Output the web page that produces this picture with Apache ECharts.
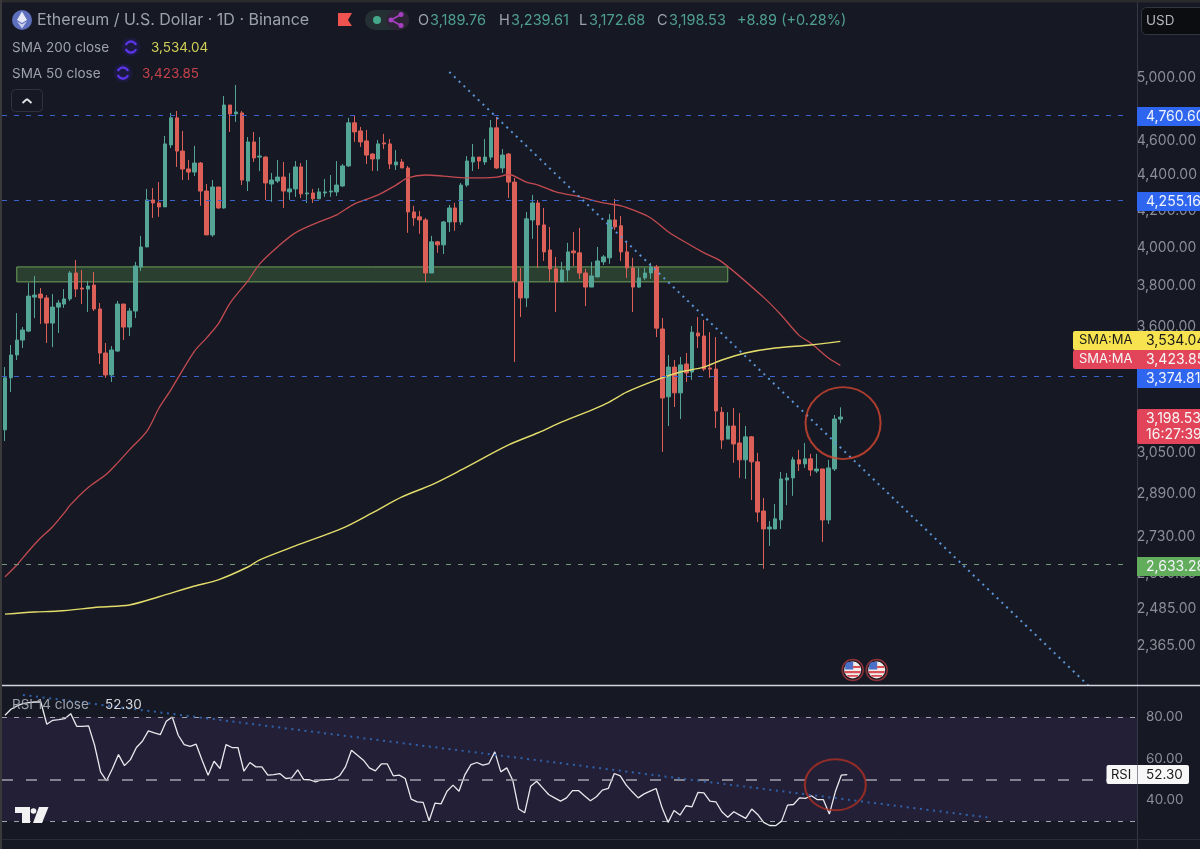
<!DOCTYPE html>
<html>
<head>
<meta charset="utf-8">
<title>ETH / USD</title>
<script src="https://cdn.jsdelivr.net/npm/echarts@6/dist/echarts.min.js"></script>
<style>
  html, body { margin: 0; padding: 0; background: #161924; }
  #chart { width: 1200px; height: 849px; }
</style>
</head>
<body>
<div id="chart"></div>
<script>
// === Data === //
const opens = [
  3145, 3368, 3471, 3540, 3582, 3746, 3761, 3742, 3620, 3697,
  3712, 3737, 3867, 3791, 3786, 3806, 3688, 3480, 3381, 3489,
  3712, 3601, 3678, 3898, 4002, 4258, 4241, 4219, 4578, 4744,
  4541, 4435, 4417, 4470, 4308, 4066, 4331, 4213, 4825, 4769,
  4775, 4365, 4596, 4505, 4505, 4348, 4365, 4388, 4303, 4320,
  4447, 4292, 4297, 4264, 4297, 4303, 4303, 4337, 4453, 4713,
  4663, 4602, 4523, 4494, 4590, 4584, 4459, 4476, 4441, 4191,
  4164, 4147, 3867, 4029, 4013, 4136, 4213, 4136, 4342, 4476,
  4505, 4476, 4505, 4682, 4441, 4523, 4359, 3822, 3742, 4147,
  4241, 4120, 3986, 3888, 3822, 3882, 3981, 3971, 3867, 3796,
  3847, 3924, 3945, 4147, 4115, 3976, 3893, 3796, 3842, 3867,
  3898, 3592, 3285, 3416, 3302, 3430, 3394, 3573, 3559, 3412,
  3407, 3219, 3107, 3161, 3091, 3023, 3116, 3015, 2826, 2760,
  2760, 2793, 2944, 2952, 3023, 3007, 3027, 2979, 2987, 2793,
  2987, 3189.76
]
const closes = [
  3368, 3471, 3540, 3587, 3751, 3756, 3742, 3620, 3697, 3717,
  3737, 3867, 3786, 3786, 3801, 3688, 3480, 3381, 3494, 3712,
  3601, 3678, 3903, 4002, 4258, 4241, 4219, 4584, 4744, 4541,
  4435, 4417, 4470, 4308, 4066, 4331, 4213, 4825, 4769, 4781,
  4371, 4596, 4500, 4511, 4354, 4371, 4388, 4308, 4320, 4447,
  4292, 4297, 4264, 4303, 4303, 4308, 4342, 4453, 4713, 4657,
  4596, 4517, 4494, 4584, 4584, 4464, 4476, 4441, 4191, 4158,
  4147, 3867, 4029, 4013, 4136, 4213, 4136, 4342, 4482, 4505,
  4482, 4505, 4682, 4441, 4517, 4359, 3827, 3742, 4153, 4241,
  4120, 3976, 3888, 3822, 3882, 3976, 3971, 3867, 3796, 3852,
  3929, 3950, 4147, 4109, 3976, 3893, 3796, 3842, 3867, 3898,
  3596, 3280, 3416, 3302, 3426, 3390, 3577, 3559, 3407, 3407,
  3224, 3103, 3161, 3087, 3023, 3116, 3015, 2822, 2760, 2767,
  2797, 2948, 2952, 3023, 3007, 3027, 2983, 2987, 2793, 2991,
  3190, 3198.53
]
const lows = [
  3099, 3306, 3448, 3503, 3577, 3644, 3616, 3526, 3507, 3573,
  3693, 3727, 3746, 3712, 3673, 3678, 3430, 3368, 3350, 3485,
  3540, 3559, 3644, 3877, 4002, 4158, 4164, 4219, 4559, 4447,
  4371, 4371, 4394, 4225, 4066, 4056, 4208, 4208, 4657, 4719,
  4342, 4308, 4476, 4423, 4258, 4247, 4354, 4213, 4258, 4275,
  4269, 4241, 4241, 4264, 4275, 4275, 4280, 4331, 4447, 4596,
  4566, 4464, 4423, 4423, 4553, 4435, 4429, 4441, 4077, 4115,
  4072, 3822, 3867, 3971, 3965, 4082, 4088, 4120, 4331, 4423,
  4435, 4459, 4488, 4435, 4412, 4269, 3439, 3649, 3697, 4045,
  3893, 3929, 3827, 3673, 3822, 3827, 3903, 3837, 3702, 3796,
  3847, 3908, 3914, 4093, 3929, 3842, 3673, 3791, 3832, 3837,
  3554, 3055, 3161, 3241, 3190, 3350, 3359, 3503, 3398, 3368,
  3153, 3067, 3107, 3011, 2952, 2948, 2867, 2785, 2619, 2699,
  2760, 2760, 2848, 2883, 2979, 2991, 2960, 2971, 2713, 2778,
  2979, 3172.68
]
const highs = [
  3416, 3517, 3668, 3601, 3817, 3852, 3791, 3756, 3761, 3732,
  3786, 3877, 3934, 3882, 3827, 3872, 3717, 3526, 3512, 3727,
  3712, 3693, 3924, 4061, 4320, 4325, 4359, 4632, 4775, 4787,
  4663, 4488, 4572, 4476, 4348, 4371, 4331, 4883, 4825, 4954,
  4787, 4626, 4657, 4626, 4511, 4412, 4488, 4476, 4412, 4482,
  4470, 4488, 4320, 4325, 4377, 4400, 4482, 4464, 4744, 4756,
  4688, 4669, 4529, 4608, 4645, 4614, 4547, 4494, 4453, 4225,
  4197, 4158, 4061, 4034, 4142, 4230, 4241, 4354, 4511, 4584,
  4505, 4614, 4731, 4750, 4553, 4529, 4383, 3893, 4191, 4286,
  4258, 4213, 4109, 3950, 3924, 4024, 4082, 4104, 3888, 3924,
  4002, 3960, 4180, 4264, 4169, 4029, 3945, 3893, 3893, 3919,
  3908, 3644, 3471, 3448, 3462, 3480, 3606, 3649, 3635, 3577,
  3554, 3241, 3219, 3237, 3215, 3161, 3120, 3051, 2875, 2789,
  2852, 2975, 2971, 3035, 3063, 3091, 3047, 3047, 2987, 3023,
  3207, 3239.61
]
const rsiValues = [
  80.8, 83.7, 85.3, 86.4, 86.9, 87.2, 87.2, 76.5, 78.4, 78.7,
  79.2, 81.6, 75.5, 75.5, 75.7, 66.4, 53.6, 49.3, 55.2, 61.9,
  56.6, 59.5, 65.3, 68.3, 73.3, 72.3, 71.5, 77.9, 80, 71.2,
  66.7, 65.9, 66.9, 59.2, 52, 58.7, 55.2, 66.7, 65.3, 65.3,
  53.9, 58.1, 56, 56, 52, 52.3, 52.8, 50.4, 50.7, 54.6,
  49.9, 49.8, 48.8, 49.8, 49.9, 50.1, 51.7, 56, 64, 61.6,
  59.2, 55.5, 54.1, 57.4, 57.4, 51.7, 52, 50.4, 40.5, 39.2,
  38.9, 30.1, 38.6, 38.2, 44.3, 47.2, 44.3, 52.3, 57.1, 58.1,
  56.8, 57.6, 63.2, 53.6, 55.5, 49.6, 35.7, 33.9, 46.7, 49.1,
  45.9, 42.7, 41.1, 39.5, 41.1, 44.6, 44.6, 42.1, 39.7, 41.6,
  44.8, 45.6, 52.8, 51.7, 47.2, 44, 41.1, 43, 44.3, 45.6,
  36.3, 29.3, 35, 32.8, 37.3, 36.8, 43.7, 43.5, 39.5, 39.2,
  34.4, 31.8, 34.4, 32.8, 31.2, 35.7, 33.1, 29.3, 27.8, 27.7,
  29.9, 37.6, 37.9, 41.1, 40.8, 42.1, 40.2, 40.2, 33.3, 44,
  52, 52.3
]

// moving averages: [bar index, price] read at the bends of each line
const sma50 = [
  [0, 2591], [2, 2632], [4, 2681], [6, 2727], [8, 2767], [10, 2819], [11, 2848], [14, 2914], [17, 2964],
  [19, 3011], [21, 3063], [24, 3141], [26, 3237], [28, 3315], [29, 3359], [32, 3489], [34, 3549], [36, 3616],
  [38, 3717], [41, 3827], [43, 3914], [46, 4002], [49, 4077], [53, 4136], [56, 4175], [59, 4236], [63, 4286],
  [66, 4342], [68, 4383], [71, 4400], [74, 4394], [78, 4383], [83, 4388], [85, 4403], [88, 4359], [90, 4342],
  [93, 4303], [97, 4275], [101, 4241], [104, 4225], [106, 4202], [109, 4158], [112, 4082], [115, 4024],
  [118, 3971], [121, 3924], [128, 3746], [131, 3659], [134, 3563], [136, 3526], [139, 3457], [141, 3423.85]
]
const sma200 = [
  [0, 2467], [5, 2474], [9, 2477], [16, 2490], [21, 2497], [26, 2524], [32, 2560], [36, 2581], [41, 2625],
  [43, 2650], [49, 2699], [57, 2763], [62, 2819], [67, 2879], [72, 2925], [77, 2983], [85, 3083], [90, 3133],
  [94, 3178], [99, 3228], [102, 3262], [105, 3306], [110, 3359], [114, 3394], [118, 3416], [121, 3448],
  [125, 3480], [130, 3503], [136, 3517], [141, 3534.04]
]

const priceTicks = [5000, 4600, 4400, 4200, 4000, 3800, 3600, 3050, 2890, 2730, 2600, 2485, 2365]
const rsiTicks = [80, 60, 40]
const blueLevels = [4760.6, 4255.16, 3374.81]
const greenLevels = [2633.28]
const rsiLevels = [80, 30]
const rsiMiddle = [50]
const priceTrend = [[75, 5040], [183, 2243]]
const rsiTrend = [[3, 90.6], [165, 31.5]]
const supportZone = { from: 2, to: 122, top: 3898, bottom: 3822 }

const barCount = 190
const categories = Array.from({ length: barCount }, (_, i) => String(i))

// === Style === //
const bg = '#161924'
const up = '#54a596'
const down = '#dd6058'
const font = 'Inter, "Noto Sans", sans-serif'

const money = v => v.toLocaleString('en-US', { minimumFractionDigits: 2, maximumFractionDigits: 2 })

// === Header, price tags and other chrome === //
const text = (x, y, str, fill, size = 13.5, extra = {}) => ({
  type: 'text', x, y, z: 120, silent: true,
  style: { text: str, fill, font: `${size}px ${font}`, verticalAlign: 'middle', ...extra }
})
const box = (x, y, width, height, fill, r = 0, extra = {}) => ({
  type: 'rect', z: 110, silent: true,
  shape: { x, y, width, height, r }, style: { fill, ...extra }
})
const line = (x1, y1, x2, y2, stroke, lineWidth = 1, z = 105) => ({
  type: 'line', z, silent: true,
  shape: { x1, y1, x2, y2 }, style: { stroke, lineWidth }
})
const poly = (points, fill) => ({ type: 'polygon', z: 120, silent: true, shape: { points }, style: { fill } })
const dot = (cx, cy, r, fill, extra = {}) => ({ type: 'circle', z: 115, silent: true, shape: { cx, cy, r }, style: { fill, ...extra } })
const arc = (cx, cy, r, startAngle, endAngle, stroke, lineWidth) => ({
  type: 'arc', z: 116, silent: true,
  shape: { cx, cy, r, startAngle, endAngle }, style: { stroke, lineWidth, fill: 'none' }
})
const syncIcon = (cx, cy) => [
  dot(cx, cy, 9.5, '#1c1a3f'),
  arc(cx, cy, 5.5, 3.5, 5.9, '#5a35e6', 2.4),
  arc(cx, cy, 5.5, 0.4, 2.8, '#5a35e6', 2.4)
]
const usFlag = cx => {
  const cy = 670
  return [
    dot(cx, cy, 10.5, '#171a24', { stroke: '#8c3238', lineWidth: 1.5 }),
    dot(cx, cy, 8.5, '#f1ece9'),
    { type: 'rect', z: 117, silent: true, shape: { x: cx - 7.5, y: cy - 8, width: 8, height: 7.5, r: [4, 0, 0, 0] }, style: { fill: '#4a6fc9' } },
    { type: 'rect', z: 117, silent: true, shape: { x: cx, y: cy - 4, width: 8, height: 2 }, style: { fill: '#d9525a' } },
    { type: 'rect', z: 117, silent: true, shape: { x: cx - 8, y: cy + 1, width: 16, height: 2.2 }, style: { fill: '#d9525a' } },
    { type: 'rect', z: 117, silent: true, shape: { x: cx - 5.5, y: cy + 5, width: 11, height: 1.8 }, style: { fill: '#d9525a' } }
  ]
}

const priceTag = (y, height, fill, color, label) => [
  box(1137, y, 63, height, fill),
  text(1146, y + height / 2, label, color, 14)
]

const graphics = [
  box(0, 0, 1200, 2.5, '#2b2b2d'),
  box(0, 0, 2, 849, '#39393c'),
  line(1137.5, 2, 1137.5, 849, '#363945'),
  line(2, 839.5, 1200, 839.5, '#2a2d38'),
  line(0, 685.5, 1200, 685.5, '#d4d6dc', 1.5, 108),

  // title row
  dot(22, 20, 10, '#5e6fbd'),
  poly([[22, 11.5], [27, 20], [22, 23], [17, 20]], '#e8ebf7'),
  poly([[22, 24.2], [27, 21.2], [22, 28.5], [17, 21.2]], '#c9d0ef'),
  text(37, 20.5, 'Ethereum / U.S. Dollar · 1D · Binance', '#9da1ac', 16),
  poly([[338, 13], [352, 13], [348, 20], [352, 26], [338, 26]], '#ef5350'),
  box(365, 10, 44, 20, '#243033', 10),
  box(386, 10, 23, 20, '#2b2536', 10),
  dot(377, 20, 4, '#45a88a'),
  dot(391, 20, 2.5, '#a63fc0'),
  dot(401, 14.5, 2.5, '#a63fc0'),
  dot(401, 25.5, 2.5, '#a63fc0'),
  line(391, 20, 401, 14.5, '#a63fc0', 1.6, 116),
  line(391, 20, 401, 25.5, '#a63fc0', 1.6, 116),
  text(418, 20.5, 'O', '#9da1ac', 14.5),
  text(430, 20.5, money(opens[141]), '#4f9f8f', 14.5),
  text(499, 20.5, 'H', '#9da1ac', 14.5),
  text(511, 20.5, money(highs[141]), '#4f9f8f', 14.5),
  text(579, 20.5, 'L', '#9da1ac', 14.5),
  text(589, 20.5, money(lows[141]), '#4f9f8f', 14.5),
  text(657, 20.5, 'C', '#9da1ac', 14.5),
  text(669, 20.5, money(closes[141]), '#4f9f8f', 14.5),
  text(737, 20.5, '+8.89 (+0.28%)', '#4f9f8f', 14.5),

  // indicator legend
  text(12, 47.5, 'SMA 200 close', '#9da1ac', 13.5),
  ...syncIcon(131, 47),
  text(151, 47.5, money(3534.04), '#d2cf57', 13.5),
  text(12, 73.5, 'SMA 50 close', '#9da1ac', 13.5),
  ...syncIcon(123, 73),
  text(142, 73.5, money(3423.85), '#c4424c', 13.5),
  box(11.5, 89.5, 31, 22, bg, 4, { stroke: '#30333d', lineWidth: 1 }),
  line(22.5, 103, 27, 99, '#e4e5e8', 1.8, 116),
  line(27, 99, 31.5, 103, '#e4e5e8', 1.8, 116),

  // USD box
  box(1141.5, 7.5, 70, 27, '#0c0d11', 5, { stroke: '#33363f', lineWidth: 1 }),
  text(1146, 21, 'USD', '#b4b6bd', 13.5),

  // tags on the price scale
  ...priceTag(107, 19, '#2f66ef', '#f1f3fa', money(blueLevels[0])),
  ...priceTag(192, 19, '#2f66ef', '#f1f3fa', money(blueLevels[1])),
  box(1073, 331, 64, 19, '#f7e34f', [2, 0, 0, 2]),
  text(1079, 340.5, 'SMA:MA', '#1a1a1a', 13),
  box(1073, 350, 64, 19, '#e2455a', [2, 0, 0, 2]),
  text(1079, 359.5, 'SMA:MA', '#f6f6f6', 13),
  ...priceTag(331, 19, '#f7e34f', '#1a1a1a', money(3534.04)),
  ...priceTag(350, 19, '#e2455a', '#f6f6f6', money(3423.85)),
  ...priceTag(369, 19, '#2f66ef', '#f1f3fa', money(blueLevels[2])),
  box(1137, 409, 63, 35, '#e2455a', [2, 0, 0, 2]),
  text(1146, 418.5, money(closes[141]), '#f6f6f6', 14),
  text(1146, 434.5, '16:27:39', '#f6f6f6', 14),
  ...priceTag(557, 19, '#62ad5b', '#f1f3fa', money(greenLevels[0])),

  // earnings flags
  ...usFlag(852.7),
  ...usFlag(876.7),

  // RSI legend and tag
  text(12, 704.5, 'RSI 14 close', '#9da1ac', 13.5),
  text(105, 704.5, rsiValues[141].toFixed(2), '#d6d7db', 13.5),
  box(1106.5, 765, 82.5, 19, '#f7f7f8', 2),
  line(1137.5, 765, 1137.5, 784, '#8f929b', 1, 112),
  text(1111, 775, 'RSI', '#1a1a1a', 13),
  text(1146, 775, rsiValues[141].toFixed(2), '#1a1a1a', 13.5),

  // TradingView mark
  poly([[15, 807], [30, 807], [30, 823], [22, 823], [22, 813], [15, 813]], '#f2f2f2'),
  { type: 'circle', z: 120, silent: true, shape: { cx: 33.5, cy: 811, r: 2.8 }, style: { fill: '#f2f2f2' } },
  poly([[39, 807], [48.5, 807], [42, 823], [33, 823]], '#f2f2f2')
]

// === Chart === //
const levelLines = (values, color, dash, width = 1) => ({
  silent: true,
  symbol: 'none',
  label: { show: false },
  lineStyle: { color, type: dash, width },
  data: values.map(yAxis => ({ yAxis }))
})

const myChart = echarts.init(document.getElementById('chart'), null, { renderer: 'canvas' })

myChart.setOption({
  animation: false,
  backgroundColor: bg,
  textStyle: { fontFamily: font },
  grid: [
    { left: 2, width: 1135, top: 8, height: 677 },
    { left: 2, width: 1135, top: 686, height: 153 }
  ],
  xAxis: [
    { type: 'category', gridIndex: 0, data: categories, show: false },
    { type: 'category', gridIndex: 1, data: categories, show: false }
  ],
  yAxis: [
    {
      type: 'log',
      gridIndex: 0,
      position: 'right',
      logBase: 10,
      min: 2247,
      max: 5483,
      axisLine: { show: false },
      axisTick: { show: false },
      splitLine: { show: false },
      minorTick: { show: false },
      axisLabel: { customValues: priceTicks, color: '#8b8e97', fontSize: 14, margin: 9, formatter: money }
    },
    {
      type: 'value',
      gridIndex: 1,
      position: 'right',
      min: 21.3,
      max: 94.9,
      axisLine: { show: false },
      axisTick: { show: false },
      splitLine: { show: false },
      axisLabel: { customValues: rsiTicks, color: '#8b8e97', fontSize: 13.5, margin: 9, formatter: money }
    }
  ],
  series: [
    {
      name: 'Zone',
      type: 'line',
      xAxisIndex: 0,
      yAxisIndex: 0,
      data: [],
      z: 1,
      markArea: {
        silent: true,
        itemStyle: { color: '#2a3f30', borderColor: '#6fa35a', borderWidth: 1 },
        data: [[
          { xAxis: supportZone.from, yAxis: supportZone.top },
          { xAxis: supportZone.to, yAxis: supportZone.bottom }
        ]]
      }
    },
    {
      name: 'Levels',
      type: 'line',
      xAxisIndex: 0,
      yAxisIndex: 0,
      data: [],
      z: 1,
      markLine: levelLines(blueLevels, '#3a62cc', [5, 7])
    },
    {
      name: 'Support',
      type: 'line',
      xAxisIndex: 0,
      yAxisIndex: 0,
      data: [],
      z: 1,
      markLine: levelLines(greenLevels, '#74957c', [5, 7])
    },
    {
      name: 'ETHUSD',
      type: 'candlestick',
      xAxisIndex: 0,
      yAxisIndex: 0,
      barWidth: 4,
      z: 3,
      itemStyle: { color: up, color0: down, borderColor: up, borderColor0: down, borderWidth: 1 },
      data: opens.map((o, i) => [o, closes[i], lows[i], highs[i]])
    },
    {
      name: 'SMA 50',
      type: 'line',
      xAxisIndex: 0,
      yAxisIndex: 0,
      data: sma50,
      smooth: 0.3,
      showSymbol: false,
      z: 4,
      lineStyle: { color: '#c24a50', width: 1.3 }
    },
    {
      name: 'SMA 200',
      type: 'line',
      xAxisIndex: 0,
      yAxisIndex: 0,
      data: sma200,
      smooth: 0.3,
      showSymbol: false,
      z: 4,
      lineStyle: { color: '#e3dc6b', width: 1.4 }
    },
    {
      name: 'Trend',
      type: 'line',
      xAxisIndex: 0,
      yAxisIndex: 0,
      data: priceTrend,
      showSymbol: false,
      z: 5,
      lineStyle: { color: '#5b95d8', width: 2, type: [2, 4.6] }
    },
    {
      name: 'Circle',
      type: 'scatter',
      xAxisIndex: 0,
      yAxisIndex: 0,
      data: [[141, 3173]],
      symbol: 'circle',
      symbolSize: [75, 72],
      symbolOffset: [2.7, 0],
      z: 6,
      itemStyle: { color: 'rgba(0,0,0,0)', borderColor: '#d4462f', borderWidth: 2 }
    },
    {
      name: 'RSI 14',
      type: 'line',
      xAxisIndex: 1,
      yAxisIndex: 1,
      data: rsiValues,
      showSymbol: false,
      z: 4,
      lineStyle: { color: '#e9e9ee', width: 1.3 },
      markArea: {
        silent: true,
        itemStyle: { color: '#231f36' },
        data: [[{ yAxis: rsiLevels[0] }, { yAxis: rsiLevels[1] }]]
      },
      markLine: levelLines(rsiLevels, '#a3a3ad', [5, 7])
    },
    {
      name: 'RSI middle',
      type: 'line',
      xAxisIndex: 1,
      yAxisIndex: 1,
      data: [],
      z: 3,
      markLine: levelLines(rsiMiddle, '#a3a3ad', [11, 13], 1.5)
    },
    {
      name: 'RSI trend',
      type: 'line',
      xAxisIndex: 1,
      yAxisIndex: 1,
      data: rsiTrend,
      showSymbol: false,
      z: 5,
      lineStyle: { color: '#2f62aa', width: 2, type: [2, 4.6] }
    },
    {
      name: 'RSI circle',
      type: 'scatter',
      xAxisIndex: 1,
      yAxisIndex: 1,
      data: [[139, 47.4]],
      symbol: 'circle',
      symbolSize: [61, 51],
      z: 6,
      itemStyle: { color: 'rgba(0,0,0,0)', borderColor: '#ad2f24', borderWidth: 2 }
    }
  ],
  graphic: { elements: graphics }
})
</script>
</body>
</html>
